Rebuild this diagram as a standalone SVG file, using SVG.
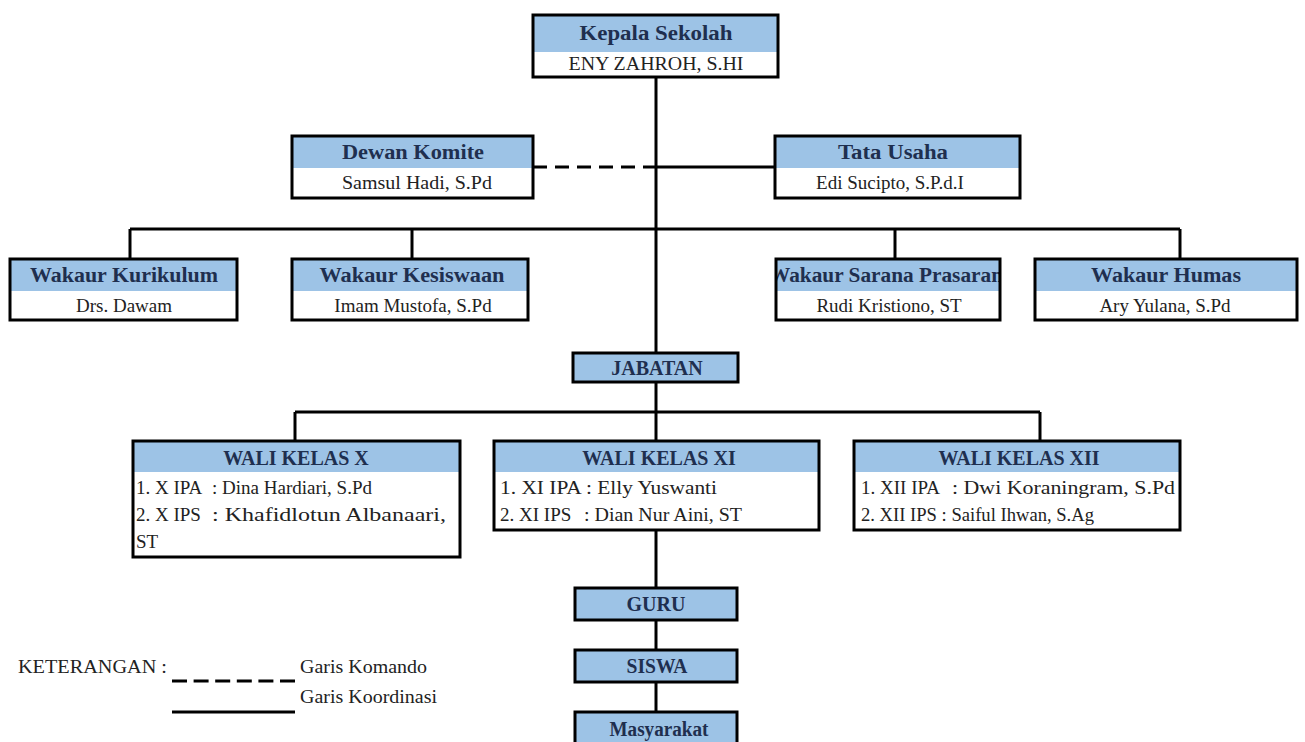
<svg xmlns="http://www.w3.org/2000/svg" width="1305" height="742" viewBox="0 0 1305 742">
<style>
.bg{fill:#fff;stroke:none}
.hd{fill:#9DC3E6;stroke:none}
.bd{fill:none;stroke:#000;stroke-width:3}
.ht{font-family:"Liberation Serif",serif;font-weight:bold;font-size:20px;fill:#1F2F4F;text-anchor:middle}
.bt{font-family:"Liberation Serif",serif;font-size:19px;fill:#222;text-anchor:middle}
.lt{font-family:"Liberation Serif",serif;font-size:19px;fill:#222;text-anchor:start}
.ln{stroke:#000;stroke-width:3;fill:none}
.dash{stroke-dasharray:14 8}
</style>
<defs>
<clipPath id="clipSarana"><rect x="777" y="260" width="222" height="60"/></clipPath>
</defs>
<rect width="1305" height="742" fill="#fff"/>
<g id="connectors">
<line class="ln" x1="656" y1="77" x2="656" y2="353"/>
<line class="ln dash" x1="533" y1="167" x2="656" y2="167"/>
<line class="ln" x1="656" y1="167" x2="775" y2="167"/>
<line class="ln" x1="130" y1="229" x2="1180" y2="229"/>
<line class="ln" x1="130" y1="229" x2="130" y2="259"/>
<line class="ln" x1="412" y1="229" x2="412" y2="259"/>
<line class="ln" x1="895" y1="229" x2="895" y2="259"/>
<line class="ln" x1="1180" y1="229" x2="1180" y2="259"/>
<line class="ln" x1="656" y1="382" x2="656" y2="412"/>
<line class="ln" x1="295" y1="412" x2="1040" y2="412"/>
<line class="ln" x1="295" y1="412" x2="295" y2="441"/>
<line class="ln" x1="656" y1="412" x2="656" y2="441"/>
<line class="ln" x1="1040" y1="412" x2="1040" y2="441"/>
<line class="ln" x1="656" y1="530" x2="656" y2="588"/>
<line class="ln" x1="656" y1="620" x2="656" y2="650"/>
<line class="ln" x1="656" y1="682" x2="656" y2="712"/>
</g>
<g id="kepala">
<rect class="bg" x="533" y="15" width="245" height="62"/>
<rect class="hd" x="533" y="15" width="245" height="37"/>
<rect class="bd" x="533" y="15" width="245" height="62"/>
<text class="ht" x="656" y="40" textLength="153" lengthAdjust="spacingAndGlyphs">Kepala Sekolah</text>
<text class="bt" x="656" y="70" textLength="175" lengthAdjust="spacingAndGlyphs">ENY ZAHROH, S.HI</text>
</g>
<g id="dewan">
<rect class="bg" x="292" y="136" width="241" height="62"/>
<rect class="hd" x="292" y="136" width="241" height="32"/>
<rect class="bd" x="292" y="136" width="241" height="62"/>
<text class="ht" x="413" y="159" textLength="142" lengthAdjust="spacingAndGlyphs">Dewan Komite</text>
<text class="bt" x="417" y="189" textLength="150" lengthAdjust="spacingAndGlyphs">Samsul Hadi, S.Pd</text>
</g>
<g id="tatausaha">
<rect class="bg" x="775" y="136" width="245" height="62"/>
<rect class="hd" x="775" y="136" width="245" height="32"/>
<rect class="bd" x="775" y="136" width="245" height="62"/>
<text class="ht" x="893" y="159" textLength="110" lengthAdjust="spacingAndGlyphs">Tata Usaha</text>
<text class="bt" x="890" y="189">Edi Sucipto, S.P.d.I</text>
</g>
<g id="kurikulum">
<rect class="bg" x="10" y="259" width="227" height="61"/>
<rect class="hd" x="10" y="259" width="227" height="32"/>
<rect class="bd" x="10" y="259" width="227" height="61"/>
<text class="ht" x="124" y="282" textLength="188" lengthAdjust="spacingAndGlyphs">Wakaur Kurikulum</text>
<text class="bt" x="124" y="312">Drs. Dawam</text>
</g>
<g id="kesiswaan">
<rect class="bg" x="292" y="259" width="236" height="61"/>
<rect class="hd" x="292" y="259" width="236" height="32"/>
<rect class="bd" x="292" y="259" width="236" height="61"/>
<text class="ht" x="412" y="282" textLength="185" lengthAdjust="spacingAndGlyphs">Wakaur Kesiswaan</text>
<text class="bt" x="413" y="312">Imam Mustofa, S.Pd</text>
</g>
<g id="sarana">
<rect class="bg" x="776" y="259" width="224" height="61"/>
<rect class="hd" x="776" y="259" width="224" height="32"/>
<g clip-path="url(#clipSarana)">
<text class="ht" x="886" y="282" textLength="234" lengthAdjust="spacingAndGlyphs">Wakaur Sarana Prasaran</text>
</g>
<rect class="bd" x="776" y="259" width="224" height="61"/>
<text class="bt" x="889" y="312">Rudi Kristiono, ST</text>
</g>
<g id="humas">
<rect class="bg" x="1035" y="259" width="262" height="61"/>
<rect class="hd" x="1035" y="259" width="262" height="32"/>
<rect class="bd" x="1035" y="259" width="262" height="61"/>
<text class="ht" x="1166" y="282" textLength="150" lengthAdjust="spacingAndGlyphs">Wakaur Humas</text>
<text class="bt" x="1165" y="312">Ary Yulana, S.Pd</text>
</g>
<g id="jabatan">
<rect class="hd" x="573" y="353" width="165" height="29"/>
<rect class="bd" x="573" y="353" width="165" height="29"/>
<text class="ht" x="657" y="375">JABATAN</text>
</g>
<g id="walix">
<rect class="bg" x="133" y="441" width="327" height="116"/>
<rect class="hd" x="133" y="441" width="327" height="31"/>
<rect class="bd" x="133" y="441" width="327" height="116"/>
<text class="ht" x="296" y="465">WALI KELAS X</text>
<text class="lt" x="136" y="494">1. X IPA</text>
<text class="lt" x="212" y="494" textLength="160" lengthAdjust="spacingAndGlyphs">: Dina Hardiari, S.Pd</text>
<text class="lt" x="136" y="521">2. X IPS</text>
<text class="lt" x="212" y="521" textLength="234" lengthAdjust="spacingAndGlyphs">: Khafidlotun Albanaari,</text>
<text class="lt" x="136" y="548">ST</text>
</g>
<g id="walixi">
<rect class="bg" x="494" y="441" width="325" height="89"/>
<rect class="hd" x="494" y="441" width="325" height="31"/>
<rect class="bd" x="494" y="441" width="325" height="89"/>
<text class="ht" x="659" y="465">WALI KELAS XI</text>
<text class="lt" x="500" y="494" textLength="217" lengthAdjust="spacingAndGlyphs">1. XI IPA : Elly Yuswanti</text>
<text class="lt" x="500" y="521">2. XI IPS</text>
<text class="lt" x="584" y="521" textLength="158" lengthAdjust="spacingAndGlyphs">: Dian Nur Aini, ST</text>
</g>
<g id="walixii">
<rect class="bg" x="854" y="441" width="326" height="89"/>
<rect class="hd" x="854" y="441" width="326" height="31"/>
<rect class="bd" x="854" y="441" width="326" height="89"/>
<text class="ht" x="1019" y="465">WALI KELAS XII</text>
<text class="lt" x="861" y="494">1. XII IPA</text>
<text class="lt" x="952" y="494" textLength="223" lengthAdjust="spacingAndGlyphs">: Dwi Koraningram, S.Pd</text>
<text class="lt" x="861" y="521" textLength="233" lengthAdjust="spacingAndGlyphs">2. XII IPS : Saiful Ihwan, S.Ag</text>
</g>
<g id="guru">
<rect class="hd" x="575" y="588" width="162" height="32"/>
<rect class="bd" x="575" y="588" width="162" height="32"/>
<text class="ht" x="656" y="611">GURU</text>
</g>
<g id="siswa">
<rect class="hd" x="575" y="650" width="162" height="32"/>
<rect class="bd" x="575" y="650" width="162" height="32"/>
<text class="ht" x="657" y="673" textLength="61" lengthAdjust="spacingAndGlyphs">SISWA</text>
</g>
<g id="masyarakat">
<rect class="hd" x="575" y="712" width="162" height="34"/>
<rect class="bd" x="575" y="712" width="162" height="34"/>
<text class="ht" x="659" y="736" textLength="99" lengthAdjust="spacingAndGlyphs">Masyarakat</text>
</g>
<g id="legend">
<text class="lt" x="18" y="673" textLength="149" lengthAdjust="spacingAndGlyphs">KETERANGAN :</text>
<line class="ln" x1="172" y1="681" x2="295" y2="681" style="stroke-dasharray:15 6.6"/>
<line class="ln" x1="172" y1="712" x2="295" y2="712"/>
<text class="lt" x="300" y="673" textLength="127" lengthAdjust="spacingAndGlyphs">Garis Komando</text>
<text class="lt" x="300" y="703" textLength="137" lengthAdjust="spacingAndGlyphs">Garis Koordinasi</text>
</g>
</svg>
